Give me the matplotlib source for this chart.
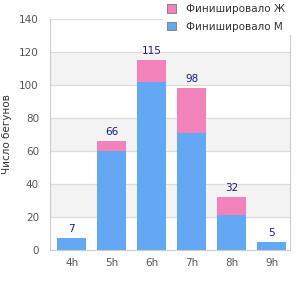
import numpy as np
import matplotlib.pyplot as plt
from matplotlib.patches import Patch, Rectangle

hours = ['4h', '5h', '6h', '7h', '8h', '9h']
male = [7, 60, 102, 71, 21, 5]
female = [0, 6, 13, 27, 11, 0]
totals = [m + f for m, f in zip(male, female)]

c_male = '#62a8f3'
c_female = '#f283ba'

fig = plt.figure(figsize=(3, 3), dpi=100)
ax = fig.add_axes([50/300, 50/300, 240/300, 231/300])

x = np.arange(len(hours))
# alternating bands
for lo in (20, 60, 100):
    ax.axhspan(lo, lo + 20, color='#f3f3f3', zorder=0)
ax.set_ylim(0, 140)
ax.set_xlim(-0.54, 5.46)
ax.set_yticks(range(0, 141, 20))
ax.yaxis.grid(True, color='#dcdcdc', lw=0.8, zorder=1)
ax.set_axisbelow(True)

ax.bar(x, male, width=0.72, color=c_male, zorder=2)
ax.bar(x, female, width=0.72, bottom=male, color=c_female, zorder=2)
for xi, t in zip(x, totals):
    ax.text(xi, t + 2.5, str(t), ha='center', va='bottom', fontsize=7.5, color='#1a1a8a')

ax.set_xticks(x)
ax.set_xticklabels(hours)
ax.tick_params(length=0, labelsize=7.5, colors='#555555', pad=6)
ax.tick_params(axis='y', pad=8)
ax.set_ylabel('Число бегунов', fontsize=7.5, color='#333333', labelpad=5)
for s in ('left', 'bottom', 'right'):
    ax.spines[s].set_color('#cccccc')
ax.spines['top'].set_visible(False)

# white box behind the legend, covering the top right of the plot
fig.patches.append(Rectangle((163/300, 1 - 35/300), 137/300, 35/300,
                             transform=fig.transFigure, facecolor='white',
                             edgecolor='none', zorder=5))

handles = [Patch(facecolor=c_female, edgecolor='#777777', lw=0.6, label='Финишировало Ж'),
           Patch(facecolor=c_male, edgecolor='#777777', lw=0.6, label='Финишировало М')]
leg = fig.legend(handles=handles, loc='upper left', bbox_to_anchor=(165/300, 1 - 2/300),
                 fontsize=7.5, frameon=False, handlelength=0.85,
                 handleheight=0.85, handletextpad=1.0, labelspacing=0.75,
                 borderaxespad=0, borderpad=0.2)
leg.set_zorder(6)
for t in leg.get_texts():
    t.set_color('#333333')

fig.savefig('out.png', dpi=100)
